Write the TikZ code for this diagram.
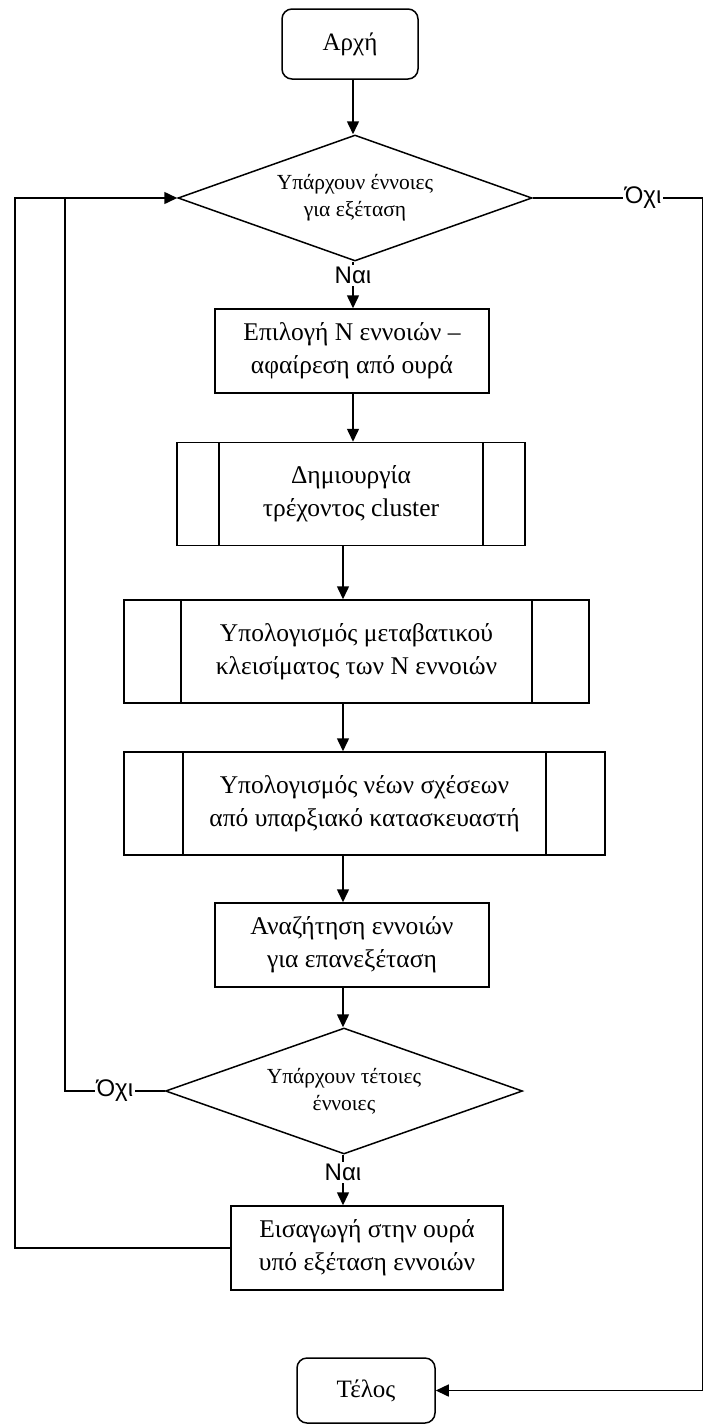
\documentclass[tikz,border=0pt]{standalone}
\usepackage{fontspec}
\setmainfont{Liberation Serif}
\newfontfamily\lblfont{Liberation Sans}
\usetikzlibrary{shapes.geometric,arrows.meta}

\begin{document}
\begin{tikzpicture}[x=1pt,y=-1pt,line width=1.5pt,
    >={Triangle[length=13pt,width=12pt]},
    term/.style={draw,rounded corners=10pt,minimum width=136pt,minimum height=70pt,font=\fontsize{25}{33}\selectfont},
    proc/.style={draw,align=center,minimum width=274pt,minimum height=84pt,font=\fontsize{25.5}{33}\selectfont},
    subproc/.style 2 args={proc,minimum width=#1,minimum height=103pt,
      path picture={\draw ([xshift=#2]path picture bounding box.north west) -- ([xshift=#2]path picture bounding box.south west)
        ([xshift=-#2]path picture bounding box.north east) -- ([xshift=-#2]path picture bounding box.south east);}},
    dec/.style={draw,diamond,aspect=2.8,inner sep=0pt,align=center,font=\fontsize{21.5}{27}\selectfont},
    lbl/.style={fill=white,inner sep=2pt,font=\lblfont\fontsize{24}{24}\selectfont}]
  \useasboundingbox (0,0) rectangle (704,1425);
  \node[term] (start) at (350,44) {Αρχή};
  \node[dec,minimum width=354pt,minimum height=126pt] (d1) at (355,198) {Υπάρχουν έννοιες\\για εξέταση};
  \node[proc] (b1) at (352,351) {Επιλογή Ν εννοιών –\\αφαίρεση από ουρά};
  \node[subproc={348pt}{42pt}] (b2) at (351,494) {Δημιουργία\\τρέχοντος cluster};
  \node[subproc={465pt}{57pt}] (b3) at (356.5,651.5) {Υπολογισμός μεταβατικού\\κλεισίματος των Ν εννοιών};
  \node[subproc={481pt}{59pt}] (b4) at (364.5,803.5) {Υπολογισμός νέων σχέσεων\\από υπαρξιακό κατασκευαστή};
  \node[proc] (b5) at (352,945) {Αναζήτηση εννοιών\\για επανεξέταση};
  \node[dec,minimum width=357pt,minimum height=126pt] (d2) at (344,1091) {Υπάρχουν τέτοιες\\έννοιες};
  \node[proc,minimum width=272pt] (b6) at (367,1248) {Εισαγωγή στην ουρά\\υπό εξέταση εννοιών};
  \node[term,minimum width=138pt,minimum height=65pt] (end) at (366,1390.5) {Τέλος};
  \coordinate (c1) at (353,0);
  \coordinate (c2) at (343,0);
  \coordinate (l1) at (15,0);
  \coordinate (l2) at (65,0);
  \coordinate (r1) at (702.5,0);
  \draw[->] (start.south -| c1) -- (d1.north -| c1);
  \draw[->] (d1.south -| c1) -- node[lbl,pos=.3] {Ναι} (b1.north -| c1);
  \draw[->] (b1.south -| c1) -- (b2.north -| c1);
  \draw[->] (b2.south -| c2) -- (b3.north -| c2);
  \draw[->] (b3.south -| c2) -- (b4.north -| c2);
  \draw[->] (b4.south -| c2) -- (b5.north -| c2);
  \draw[->] (b5.south -| c2) -- (d2.north -| c2);
  \draw[->] (d2.south -| c2) -- node[lbl,pos=.35] {Ναι} (b6.north -| c2);
  \draw (d2.west) -- node[lbl] {Όχι} (d2.west -| l2) -- (l2 |- d1.west);
  \draw[->] (b6.west) -- (b6.west -| l1) |- (d1.west);
  \draw[->] (d1.east) -- node[lbl,pos=.65] {Όχι} (d1.east -| r1) |- (end.east);
\end{tikzpicture}
\end{document}
